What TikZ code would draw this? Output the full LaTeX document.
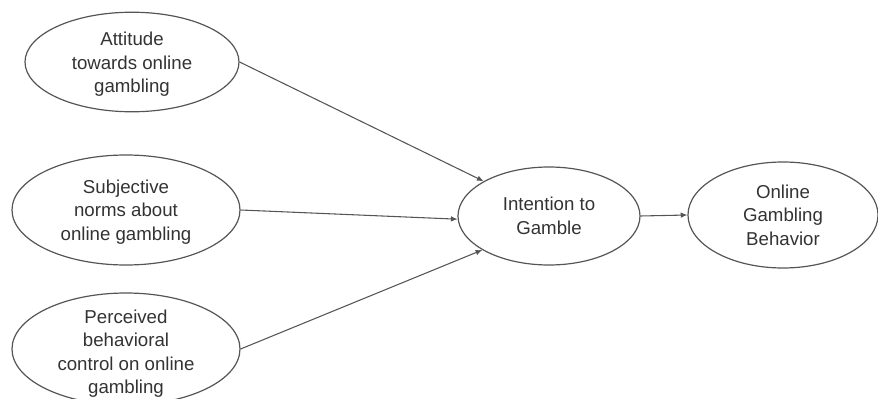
\documentclass[tikz,border=0pt]{standalone}
\usepackage{fontspec}
\setmainfont{Liberation Sans}
\usetikzlibrary{shapes.geometric,arrows.meta}
\definecolor{txt}{HTML}{333333}
\definecolor{ln}{HTML}{555555}
\newcommand\ovaltext[2]{\raisebox{-#1}[\height][\depth]{\begin{tabular}{@{}c@{}}#2\end{tabular}}}
\tikzset{
  oval/.style={ellipse, draw=ln, line width=0.9pt, inner sep=0pt,
    text=txt, font=\fontsize{14}{17.6}\selectfont},
  conn/.style={draw=ln, line width=0.8pt, -{Latex[length=5pt,width=4.2pt]}}
}
\begin{document}
\begin{tikzpicture}[x=0.75pt,y=-0.75pt]
\useasboundingbox (0,0) rectangle (878,399);
\clip (0,0) rectangle (878,399);
\node[oval, minimum width=160.5pt, minimum height=73.5pt] (att) at (132,62)
  {\ovaltext{2pt}{Attitude\\towards online\\gambling}};
\node[oval, minimum width=171pt, minimum height=82.5pt] (sub) at (126,210)
  {\ovaltext{1.5pt}{Subjective\\norms about\\online gambling}};
\node[oval, minimum width=171pt, minimum height=84pt, inner ysep=-12pt] (per) at (126,349)
  {\ovaltext{3.5pt}{Perceived\\behavioral\\control on online\\gambling}};
\node[oval, minimum width=136.5pt, minimum height=73.5pt] (int) at (549,216)
  {\ovaltext{1.5pt}{Intention to\\Gamble}};
\node[oval, minimum width=142.5pt, minimum height=79.5pt] (ogb) at (783,215)
  {\ovaltext{1.5pt}{Online\\Gambling\\Behavior}};
\draw[conn] (att.east) -- (int.152);
\draw[conn] (sub.east) -- (int.182);
\draw[conn] (per.east) -- (int.207);
\draw[conn] (int.east) -- (ogb.west);
\end{tikzpicture}
\end{document}
